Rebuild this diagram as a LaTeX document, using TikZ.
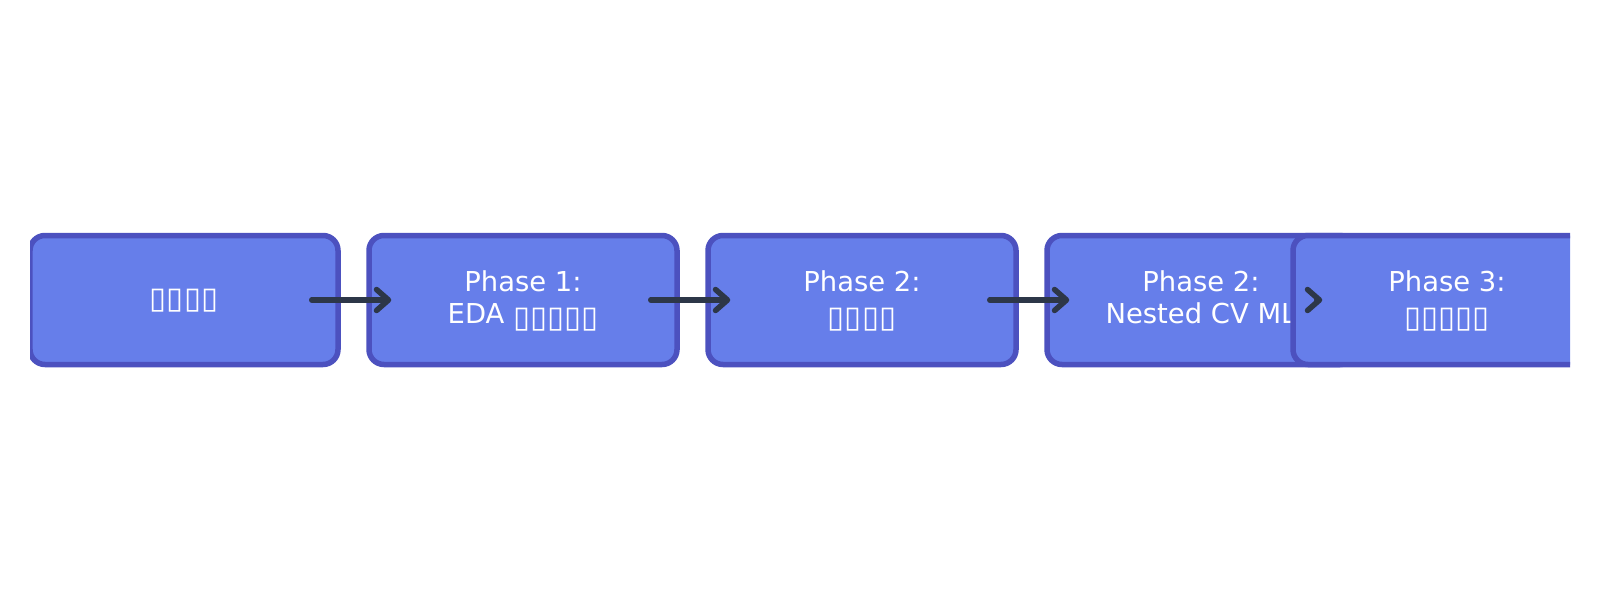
\documentclass[tikz,border=0pt]{standalone}
\usepackage{fontspec}
\setmainfont{DejaVu Sans}
\usetikzlibrary{arrows.meta}
\definecolor{boxfill}{HTML}{667EEA}
\definecolor{boxline}{HTML}{4C51BF}
\definecolor{arrowcol}{HTML}{2D3748}
\newcommand\tofu{\raisebox{-.035cm}{\scalebox{1.13}[1.1]{▯}}}
\begin{document}
\begin{tikzpicture}[
		phase/.style={draw=boxline, fill=boxfill, line width=.055cm, rounded corners=.15cm, minimum width=3.08cm, minimum height=1.29cm, inner sep=0pt, text=white, align=center, text depth=.05cm, font=\fontsize{7.8}{9.1}\selectfont},
		flow/.style={draw=arrowcol, line width=.055cm, line cap=round, -{Straight Barb[length=.12cm, width=.21cm, round]}}]
		\useasboundingbox(0, 0)rectangle(16, 6);
		\clip(.3, 0)rectangle(15.7, 6);
		\node[phase](load)at(1.84, 3){\tofu\tofu\tofu\tofu};
		\node[phase](eda)at(5.23, 3){Phase 1:\\EDA \tofu\tofu\tofu\tofu\tofu};
		\node[phase](feat)at(8.62, 3){Phase 2:\\\tofu\tofu\tofu\tofu};
		\node[phase](ml)at(12.01, 3){Phase 2:\\Nested CV ML};
		\node[phase](report)at(14.47, 3){Phase 3:\\\tofu\tofu\tofu\tofu\tofu};
		\draw[flow]([xshift=-.29cm]load.east)--([xshift=.25cm]eda.west);
		\draw[flow]([xshift=-.29cm]eda.east)--([xshift=.25cm]feat.west);
		\draw[flow]([xshift=-.29cm]feat.east)--([xshift=.25cm]ml.west);
		\draw[flow]([xshift=-.4cm]ml.east)--([xshift=.32cm]report.west);
	\end{tikzpicture}
\end{document}
